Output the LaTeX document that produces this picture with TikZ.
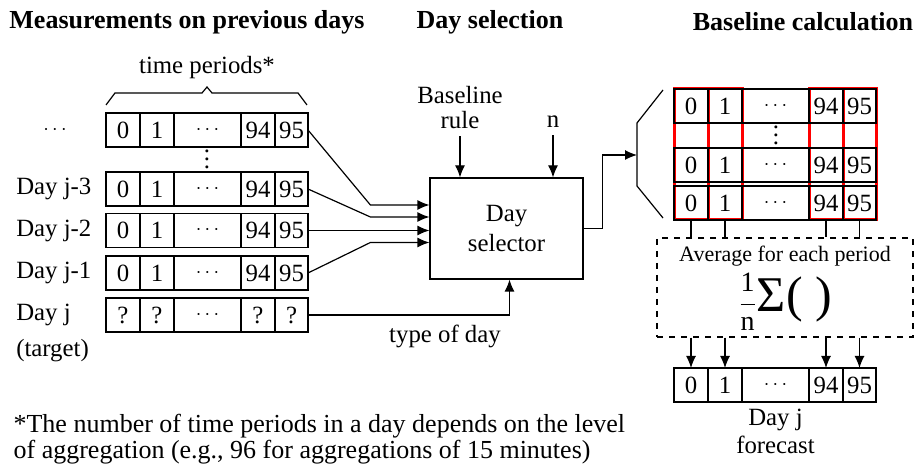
\documentclass[tikz,border=0pt]{standalone}
\usepackage{fontspec}
\setmainfont{Liberation Serif}
\usetikzlibrary{arrows.meta, calc, positioning, backgrounds}

\tikzset{
  cell/.style={draw, minimum height=17pt, inner sep=0pt, outer sep=0pt},
  arr/.style={-{Latex[length=6pt,width=5pt]}},
  title/.style={font=\fontsize{13}{15}\selectfont\bfseries},
  redcol/.style={draw=red, line width=1.5pt},
  dots/.style={inner sep=0pt},
}

% one row of time periods: name, north west corner, five labels
\newcommand{\cellrow}[7]{%
  \node[cell, minimum width=17pt, anchor=north west] (#1-1) at (#2) {#3};
  \node[cell, minimum width=17pt, right=0pt of #1-1] (#1-2) {#4};
  \node[cell, minimum width=33.5pt, right=0pt of #1-2] (#1-3) {#5};
  \node[cell, minimum width=17pt, right=0pt of #1-3] (#1-4) {#6};
  \node[cell, minimum width=16.5pt, right=0pt of #1-4] (#1-5) {#7};
}
\newcommand{\hdots}{{\fontsize{10}{10}\selectfont$\cdots$}}
\newcommand{\vdotsb}{\vbox{\baselineskip4pt\lineskiplimit0pt\hbox{.}\hbox{.}\hbox{.}}}
\newcommand{\numrow}[2]{\cellrow{#1}{#2}{0}{1}{\hdots}{94}{95}}

\begin{document}
\begin{tikzpicture}[x=0.5pt, y=-0.5pt, font=\fontsize{12.4}{14}\selectfont, line width=0.6pt]
    \useasboundingbox (0,0) rectangle (915,464);

    % titles
    \node[title] (t1) at (187,22) {Measurements on previous days};
    \node[title] (t2) at (490,22) {Day selection};
    \node[title] (t3) at (803,22) {Baseline calculation};

    % previous days
    \numrow{L0}{106,113}
    \numrow{L3}{106,172}
    \numrow{L2}{106,213.5}
    \numrow{L1}{106,256}
    \cellrow{Lj}{106,298}{?}{?}{\hdots}{?}{?}
    \node[dots] (vd1) at (207,159.5) {\vdotsb};
    \node (l0) at (55,130) {\hdots};
    \node[anchor=west] (l3) at (9,189) {Day j-3};
    \node[anchor=west] (l2) at (9,230.5) {Day j-2};
    \node[anchor=west] (l1) at (9,273) {Day j-1};
    \node[anchor=west] (lj) at (9,315) {Day j};
    \node[anchor=west] (lt) at (9,351) {(target)};
    \draw (106,105) -- (115,93) -- (202,93) -- (207,87) -- (212,93) -- (298,93) -- (307,105);
    \node (tp) at (207,68) {time periods*};

    % day selection
    \node[draw, minimum width=76.5pt, minimum height=50.5pt, align=center, inner sep=0pt,
          font=\fontsize{12.4}{15}\selectfont] (sel) at (506.5,228.5) {Day\\selector};
    \coordinate (in1) at ($(sel.west)+(0,-23.5)$);
    \coordinate (in2) at ($(sel.west)+(0,-11.5)$);
    \coordinate (in3) at ($(sel.west)+(0,2)$);
    \coordinate (in4) at ($(sel.west)+(0,14)$);
    \draw[arr] (L0-5.east) -- ($(in1)+(-59,0)$) -- (in1);
    \draw[arr] (L3-5.east) -- ($(in2)+(-59,0)$) -- (in2);
    \draw[arr] (L2-5.east) -- (in3);
    \draw[arr] (L1-5.east) -- ($(in4)+(-59,0)$) -- (in4);
    \draw[arr] (Lj-5.east) -| ($(sel.south)+(3,0)$);
    \node (tod) at (445,336) {type of day};
    \node[align=center, font=\fontsize{12.4}{12.5}\selectfont] (rule) at (460,108) {Baseline\\rule};
    \draw[arr] (rule.south) -- (rule.south |- sel.north);
    \node (nn) at (553,122) {n};
    \draw[arr] (nn.south) -- (nn.south |- sel.north);

    % baseline calculation
    \coordinate (ztip) at (637,155);
    \draw[arr] (sel.east) -- ++(19,0) |- (ztip);
    \draw (663,90) -- (637,123) -- (637,186) -- (663,218);
    \numrow{M1}{674,89}
    \numrow{M2}{674,148}
    \numrow{M3}{674,186}
    \node[dots] (vd2) at (776,135) {\vdotsb};
    \begin{scope}[on background layer]
        \foreach \c in {1,2,4,5}
            \draw[redcol] (M1-\c.north west) rectangle (M3-\c.south east);
    \end{scope}
    \node[draw, dashed, minimum width=128pt, minimum height=49.5pt] (avg) at (785,287.5) {};
    \node[font=\fontsize{11}{13}\selectfont] (avgtxt) at (785,256) {Average for each period};
    \node (avgf) at (785,302) {{\fontsize{14}{14}\selectfont$\displaystyle\frac{\mbox{1}}{\mbox{n}}$}{\fontsize{25}{25}\selectfont Σ(\hspace{0.25em})}};
    \numrow{F}{674,368}
    \node[align=center, below=0pt of F-3] (fc) {Day j\\forecast};
    \foreach \c in {1,2,4,5} {
        \draw (M3-\c.south) -- (M3-\c.south |- avg.north);
        \draw[arr] (avg.south -| F-\c) -- (F-\c.north);
    }

    % footnote
    \node[anchor=north west, align=left, inner sep=0pt, font=\fontsize{13}{12.8}\selectfont] (note) at (13,414)
        {*The number of time periods in a day depends on the level\\of aggregation (e.g., 96 for aggregations of 15 minutes)};
\end{tikzpicture}
\end{document}
